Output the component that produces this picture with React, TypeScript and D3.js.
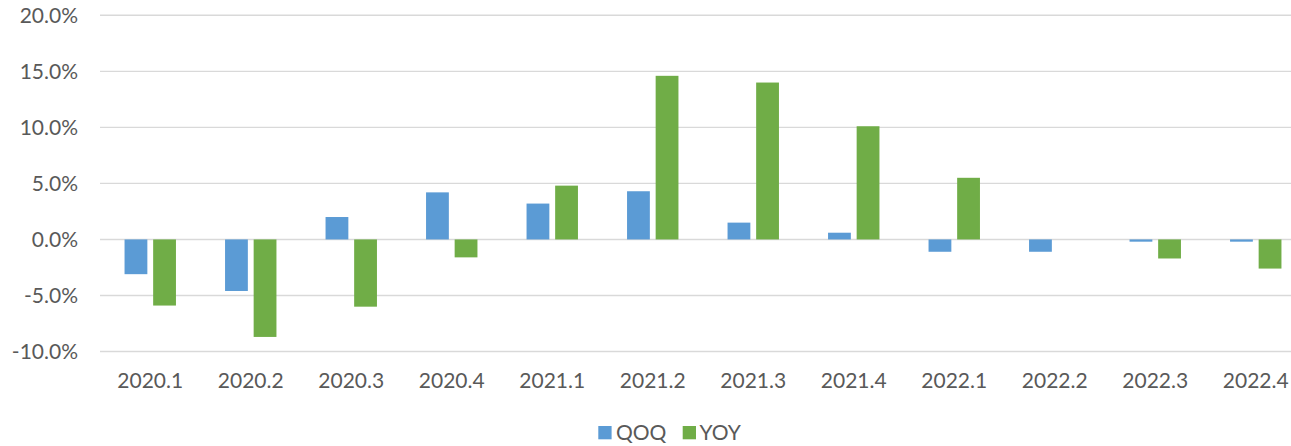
import React from "react";
import * as d3 from "d3";

const categories = ["2020.1","2020.2","2020.3","2020.4","2021.1","2021.2","2021.3","2021.4","2022.1","2022.2","2022.3","2022.4"];
const seriesNames = ["QOQ", "YOY"];
const qoq = [-3.1, -4.6, 2.0, 4.2, 3.2, 4.3, 1.5, 0.6, -1.1, -1.1, -0.2, -0.2];
const yoy = [-5.9, -8.7, -6.0, -1.6, 4.8, 14.6, 14.0, 10.1, 5.5, 0, -1.7, -2.6];
const yTicks = [-10, -5, 0, 5, 10, 15, 20];
const colors = ["#5B9BD5", "#70AD47"];

const W = 1291, H = 446;
const FONT = "Lato, 'Open Sans', sans-serif";
const TEXT = "#595959";

export default function App() {
  const x = d3.scaleBand<string>().domain(categories).range([100, 1306]).paddingInner(0).paddingOuter(0);
  const x1 = d3.scaleBand<string>().domain(seriesNames).range([0, x.bandwidth()]).paddingInner(0.203).paddingOuter(0.858);
  const y = d3.scaleLinear().domain([-10, 20]).range([351.5, 15.3]);
  const series = [qoq, yoy];
  const fmt = (v: number) => v.toFixed(1) + "%";

  return (
    <svg width={W} height={H} style={{ position: "absolute", left: 0, top: 0, display: "block", background: "#fff" }}>
      <rect x={0} y={0} width={W} height={H} fill="#fff" />
      {yTicks.map((t) => (
        <g key={t}>
          <line x1={100} x2={1306} y1={y(t)} y2={y(t)} stroke="#D9D9D9" strokeWidth={1.4} />
          <text x={78} y={y(t)} dy="0.36em" textAnchor="end" fontFamily={FONT} fontSize={21} fill={TEXT}>{fmt(t)}</text>
        </g>
      ))}
      {series.map((vals, si) =>
        vals.map((v, i) => {
          if (v === 0) return null;
          const bx = (x(categories[i]) as number) + (x1(seriesNames[si]) as number);
          const y0 = y(0), yv = y(v);
          return (
            <rect key={si + "-" + i} x={bx} width={x1.bandwidth()} y={Math.min(y0, yv)} height={Math.abs(yv - y0)} fill={colors[si]} />
          );
        })
      )}
      {categories.map((c) => (
        <text key={c} x={(x(c) as number) + x.bandwidth() / 2} y={387.5} textAnchor="middle" fontFamily={FONT} fontSize={21} fill={TEXT}>{c}</text>
      ))}
      <g>
        <rect x={598.3} y={426} width={13.3} height={13.3} fill={colors[0]} />
        <text x={616} y={440} fontFamily={FONT} fontSize={21} fill={TEXT}>{seriesNames[0]}</text>
        <rect x={682.7} y={426} width={13.3} height={13.3} fill={colors[1]} />
        <text x={699.5} y={440} fontFamily={FONT} fontSize={21} fill={TEXT}>{seriesNames[1]}</text>
      </g>
    </svg>
  );
}
